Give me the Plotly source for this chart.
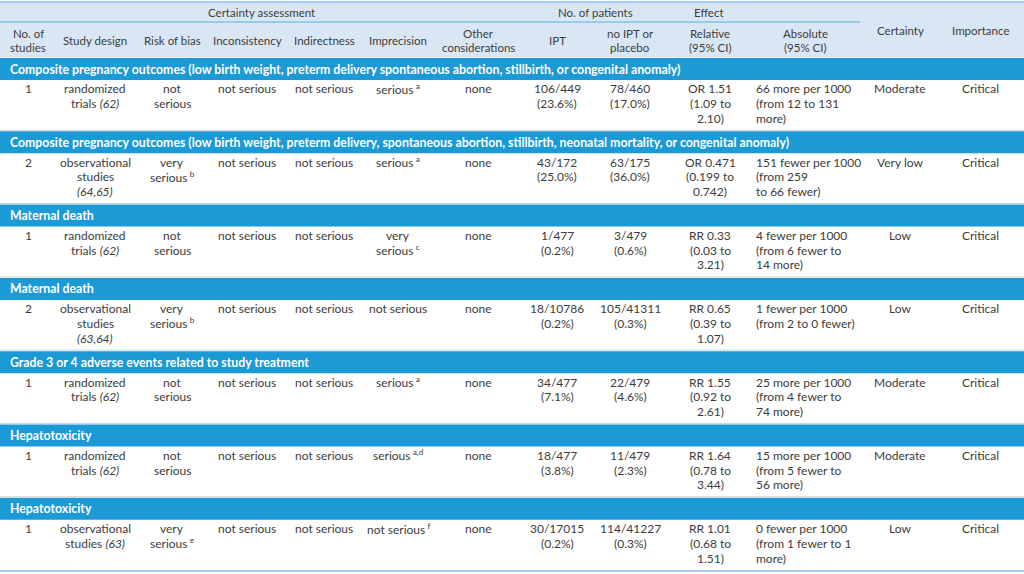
import re
import plotly.graph_objects as go

# ---------------- data ----------------
group_headers = ["Certainty assessment", "No. of patients", "Effect"]
column_headers = ["No. of\nstudies", "Study design", "Risk of bias", "Inconsistency",
                  "Indirectness", "Imprecision", "Other\nconsiderations", "IPT",
                  "no IPT or\nplacebo", "Relative\n(95% CI)", "Absolute\n(95% CI)",
                  "Certainty", "Importance"]

sections = [
    "Composite pregnancy outcomes (low birth weight, preterm delivery spontaneous abortion, stillbirth, or congenital anomaly)",
    "Composite pregnancy outcomes (low birth weight, preterm delivery, spontaneous abortion, stillbirth, neonatal mortality, or congenital anomaly)",
    "Maternal death",
    "Maternal death",
    "Grade 3 or 4 adverse events related to study treatment",
    "Hepatotoxicity",
    "Hepatotoxicity",
]
n_studies = ["1", "2", "1", "2", "1", "1", "1"]
study_design = ["randomized\ntrials (62)", "observational\nstudies\n(64,65)", "randomized\ntrials (62)",
                "observational\nstudies\n(63,64)", "randomized\ntrials (62)", "randomized\ntrials (62)",
                "observational\nstudies (63)"]
risk_of_bias = ["not\nserious", "very\nserious", "not\nserious", "very\nserious",
                "not\nserious", "not\nserious", "very\nserious"]
risk_of_bias_note = ["", "b", "", "b", "", "", "e"]
inconsistency = ["not serious"] * 7
indirectness = ["not serious"] * 7
imprecision = ["serious", "serious", "very\nserious", "not serious", "serious", "serious", "not serious"]
imprecision_note = ["a", "a", "c", "", "a", "a,d", "f"]
other_considerations = ["none"] * 7
ipt = ["106/449\n(23.6%)", "43/172\n(25.0%)", "1/477\n(0.2%)", "18/10786\n(0.2%)",
       "34/477\n(7.1%)", "18/477\n(3.8%)", "30/17015\n(0.2%)"]
no_ipt = ["78/460\n(17.0%)", "63/175\n(36.0%)", "3/479\n(0.6%)", "105/41311\n(0.3%)",
          "22/479\n(4.6%)", "11/479\n(2.3%)", "114/41227\n(0.3%)"]
relative = ["OR 1.51\n(1.09 to\n2.10)", "OR 0.471\n(0.199 to\n0.742)", "RR 0.33\n(0.03 to\n3.21)",
            "RR 0.65\n(0.39 to\n1.07)", "RR 1.55\n(0.92 to\n2.61)", "RR 1.64\n(0.78 to\n3.44)",
            "RR 1.01\n(0.68 to\n1.51)"]
absolute = ["66 more per 1000\n(from 12 to 131\nmore)", "151 fewer per 1000\n(from 259\nto 66 fewer)",
            "4 fewer per 1000\n(from 6 fewer to\n14 more)", "1 fewer per 1000\n(from 2 to 0 fewer)",
            "25 more per 1000\n(from 4 fewer to\n74 more)", "15 more per 1000\n(from 5 fewer to\n56 more)",
            "0 fewer per 1000\n(from 1 fewer to 1\nmore)"]
certainty = ["Moderate", "Very low", "Low", "Low", "Moderate", "Moderate", "Low"]
importance = ["Critical"] * 7

# ---------------- layout / style ----------------
W, H = 1024, 574
FONT = "Lato"
FS = 12
TEXT = "#3c3c3c"
HEAD_BG = "#d9e7f5"
BAND = "#1b9ad6"
LINE_BLUE = "#56ade2"
GRID = "#d2d2d2"

col_x = [28, 95, 172, 247, 324, 398, 478, 557, 630, 710, 754, 900, 980]
col_align = ["center"] * 10 + ["left", "center", "center"]
head_x = col_x[:10] + [805] + col_x[11:]
group_x = [261, 595, 709]
LINE_H = 14.7
HEADER_BOTTOM = 57.5
BAND_H = 22
ROW_H = 51.3
TABLE_TOP = 58

fig = go.Figure()
shapes = []
annotations = []


def fmt(s):
    return re.sub(r"(\([0-9,]+\))$", r"<i>\1</i>", s)


def add_text(x, y, txt, align="center", bold=False, color=TEXT, size=FS):
    annotations.append(dict(
        x=x, y=y, xref="x", yref="y", text=("<b>%s</b>" % txt) if bold else txt,
        showarrow=False, xanchor=align, yanchor="middle",
        font=dict(family=FONT, size=size, color=color)))


def add_cell(x, y0, txt, align, note=""):
    lines = txt.split("\n")
    for k, ln in enumerate(lines):
        t = fmt(ln)
        if note and k == len(lines) - 1:
            t += "<sup> %s</sup>" % note
        add_text(x, y0 + k * LINE_H, t, align)


# header background and lines
shapes.append(dict(type="rect", xref="x", yref="y", x0=0, x1=W, y0=2, y1=HEADER_BOTTOM,
                   fillcolor=HEAD_BG, line_width=0, layer="below"))
shapes.append(dict(type="line", xref="x", yref="y", x0=0, x1=W, y0=2, y1=2,
                   line=dict(color=LINE_BLUE, width=1.2)))
shapes.append(dict(type="line", xref="x", yref="y", x0=0, x1=860, y0=22, y1=22,
                   line=dict(color=LINE_BLUE, width=1.2)))

for gx, g in zip(group_x, group_headers):
    add_text(gx, 12.5, g, size=11.5)

for i, h in enumerate(column_headers):
    lines = h.split("\n")
    if i >= 11:
        add_text(head_x[i], 30, h, size=11.5)
    elif len(lines) == 2:
        add_text(head_x[i], 33, lines[0], size=11.5)
        add_text(head_x[i], 47.5, lines[1], size=11.5)
    else:
        add_text(head_x[i], 40, h, size=11.5)

columns = [n_studies, study_design, risk_of_bias, inconsistency, indirectness, imprecision,
           other_considerations, ipt, no_ipt, relative, absolute, certainty, importance]
notes = {2: risk_of_bias_note, 5: imprecision_note}

for r, sec in enumerate(sections):
    top = TABLE_TOP + r * (BAND_H + ROW_H)
    if r > 0:
        shapes.append(dict(type="line", xref="x", yref="y", x0=0, x1=W, y0=top - 1, y1=top - 1,
                           line=dict(color=GRID, width=1)))
    shapes.append(dict(type="rect", xref="x", yref="y", x0=0, x1=W, y0=top, y1=top + BAND_H,
                       fillcolor=BAND, line_width=0, layer="below"))
    add_text(8, top + BAND_H / 2, sec, "left", bold=True, color="white", size=12.3)
    y0 = top + BAND_H + 8.8
    for c, col in enumerate(columns):
        note = notes[c][r] if c in notes else ""
        add_cell(col_x[c], y0, col[r], col_align[c], note)

end = TABLE_TOP + len(sections) * (BAND_H + ROW_H)
shapes.append(dict(type="line", xref="x", yref="y", x0=0, x1=W, y0=end, y1=end,
                   line=dict(color="#8fbbdc", width=1.5)))

fig.update_layout(
    width=W, height=H, margin=dict(l=0, r=0, t=0, b=0),
    paper_bgcolor="white", plot_bgcolor="white",
    xaxis=dict(range=[0, W], visible=False, fixedrange=True),
    yaxis=dict(range=[H, 0], visible=False, fixedrange=True),
    shapes=shapes, annotations=annotations, showlegend=False,
)
fig.write_html(
    "out.html",
    config={"displayModeBar": False},
    post_script="document.body.style.margin='0';document.body.style.overflow='hidden';",
)
